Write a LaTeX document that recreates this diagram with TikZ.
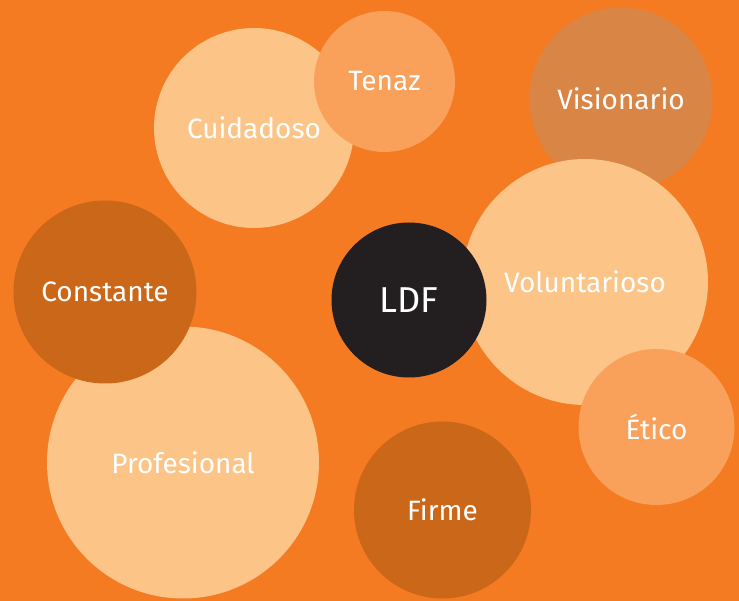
\documentclass[tikz,border=0pt]{standalone}
\usepackage{fontspec}
\setmainfont{Fira Sans}
\definecolor{fondo}{HTML}{F47B22}
\definecolor{claro}{HTML}{FCC487}
\definecolor{medio}{HTML}{F9A05B}
\definecolor{tostado}{HTML}{D88546}
\definecolor{oscuro}{HTML}{CB6718}
\definecolor{negro}{HTML}{231F20}
\begin{document}
\begin{tikzpicture}[x=1pt, y=-1pt,
    burbuja/.style ={circle, inner sep = 0pt, text=white, font=\fontsize{28}{30}\selectfont},
    claroB/.style ={burbuja, fill=claro},
    medioB/.style ={burbuja, fill=medio},
    tostadoB/.style ={burbuja, fill=tostado},
    oscuroB/.style ={burbuja, fill=oscuro}]
   \fill[fondo] (0,0) rectangle (739,601);

   \node[claroB, minimum size=200pt] (cui) at (254,128) {Cuidadoso};
   \node[medioB, minimum size=141pt] (ten) at (384.5,81.5) {Tenaz};
   \node[tostadoB, minimum size=183pt] (vis) at (621,99) {Visionario};
   \node[claroB, minimum size=246pt] (vol) at (585,282) {Voluntarioso};
   \node[burbuja, fill=negro, minimum size=155pt, font=\fontsize{36}{38}\selectfont] (ldf) at (409,300) {LDF};
   \node[medioB, minimum size=156pt] (eti) at (656.5,427) {Ético};
   \node[claroB, minimum size=272pt] (pro) at (183,462.5) {Profesional};
   \node[oscuroB, minimum size=183pt] (con) at (105,292) {Constante};
   \node[oscuroB, minimum size=177pt] (fir) at (442.5,510) {Firme};
 \end{tikzpicture}
\end{document}
